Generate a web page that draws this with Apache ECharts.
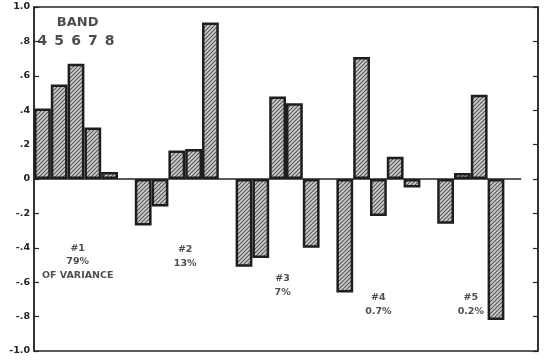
<!DOCTYPE html>
<html>
<head>
<meta charset="utf-8">
<script src="https://cdn.jsdelivr.net/npm/echarts@6/dist/echarts.min.js"></script>
<style>
  html, body { margin: 0; padding: 0; background: #fff; }
  #chart { width: 547px; height: 361px; }
</style>
</head>
<body>
<div id="chart"></div>
<script>
// Spectral band labels over the first group of bars
const bands = ['4', '5', '6', '7', '8'];

// Eigenvector loadings per band, one array per component
const component1 = [0.41, 0.55, 0.67, 0.30, 0.04];
const component2 = [-0.27, -0.16, 0.165, 0.175, 0.91];
const component3 = [-0.51, -0.46, 0.48, 0.44, -0.40];
const component4 = [-0.66, 0.71, -0.215, 0.13, -0.05];
const component5 = [-0.26, 0.035, 0.49, -0.82, 0];

// Component captions (share of variance)
const captions = ['#1\n79%\nOF VARIANCE', '#2\n13%', '#3\n7%', '#4\n0.7%', '#5\n0.2%'];

// Y tick labels, bottom to top
const yTickLabels = ['-1.0', '-.8', '-.6', '-.4', '-.2', '0', '.2', '.4', '.6', '.8', '1.0'];

// --- layout (slot units on the hidden value x-axis, loadings on y) ---
const captionAnchors = [[2.6, -0.48], [9.0, -0.45], [14.8, -0.62], [20.5, -0.73], [26.0, -0.73]];
const bandTitleAnchor = [2.6, 0.91];
const bandLabelY = 0.8;

const components = [component1, component2, component3, component4, component5];
const slotsPerGroup = bands.length + 1; // five bars and one empty slot
const slotCount = components.length * slotsPerGroup;

const barData = [];
const categories = [];
components.forEach(function (vals, g) {
  vals.forEach(function (v, i) {
    categories.push('C' + (g + 1) + '-' + bands[i]);
    // a zero loading has no height, so it shows only as the baseline
    barData.push(v === 0 ? { value: v, itemStyle: { borderWidth: 0 } } : v);
  });
  categories.push('gap' + (g + 1));
  barData.push(null);
});

// Diagonal hatch fill
function hatch() {
  const s = 4;
  const c = document.createElement('canvas');
  c.width = s; c.height = s;
  const ctx = c.getContext('2d');
  ctx.fillStyle = '#cdcdcd';
  ctx.fillRect(0, 0, s, s);
  ctx.strokeStyle = '#555';
  ctx.lineWidth = 1.1;
  ctx.beginPath();
  ctx.moveTo(-1, s + 1); ctx.lineTo(s + 1, -1);
  ctx.moveTo(-1, 1); ctx.lineTo(1, -1);
  ctx.moveTo(s - 1, s + 1); ctx.lineTo(s + 1, s - 1);
  ctx.stroke();
  return c;
}

const font = '"DejaVu Sans", "Liberation Sans", Arial, sans-serif';
const ink = '#262626';

function yLabel(v) {
  const idx = Math.round((v + 1) / 0.2);
  return yTickLabels[idx] !== undefined ? yTickLabels[idx] : '';
}

const yBase = {
  type: 'value', min: -1, max: 1, interval: 0.2,
  splitLine: { show: false },
  axisLine: { show: true, lineStyle: { color: ink, width: 1.5 } },
  axisTick: { show: true, inside: true, length: 5, lineStyle: { color: ink, width: 1.2 } }
};

const chart = echarts.init(document.getElementById('chart'), null, { renderer: 'canvas' });
chart.setOption({
  animation: false,
  backgroundColor: '#fff',
  grid: {
    left: 34, right: 9, top: 7, bottom: 10,
    show: true, borderColor: ink, borderWidth: 1.5, backgroundColor: 'transparent'
  },
  xAxis: [
    { type: 'category', data: categories, show: false, boundaryGap: true },
    { type: 'value', min: 0, max: slotCount, show: false }
  ],
  yAxis: [
    Object.assign({}, yBase, {
      position: 'left',
      axisLabel: {
        show: true, margin: 4, color: '#222', fontFamily: font, fontWeight: 'bold', fontSize: 9.5,
        formatter: yLabel
      }
    }),
    Object.assign({}, yBase, { position: 'right', axisLabel: { show: false } })
  ],
  series: [
    {
      name: 'zero',
      type: 'line', xAxisIndex: 1, yAxisIndex: 0,
      data: [[0, 0], [slotCount - 1, 0]],
      symbol: 'none', silent: true, z: 1,
      lineStyle: { color: ink, width: 1.5 }
    },
    {
      name: 'loadings',
      type: 'bar', xAxisIndex: 0, yAxisIndex: 0,
      data: barData,
      barWidth: '100%',
      z: 2,
      itemStyle: {
        color: { image: hatch(), repeat: 'repeat' },
        borderColor: '#1e1e1e', borderWidth: 2.5
      }
    },
    {
      name: 'bands',
      type: 'scatter', xAxisIndex: 0, yAxisIndex: 0,
      data: bands.map(function (b, i) { return [i, bandLabelY]; }),
      symbolSize: 0, silent: true, z: 3,
      label: {
        show: true, position: 'inside', color: '#1e1e1e',
        fontFamily: font, fontWeight: 'bold', fontSize: 14,
        formatter: function (p) { return bands[p.dataIndex]; }
      }
    },
    {
      name: 'bandTitle',
      type: 'scatter', xAxisIndex: 1, yAxisIndex: 0,
      data: [bandTitleAnchor],
      symbolSize: 0, silent: true, z: 3,
      label: {
        show: true, position: 'inside', color: '#1e1e1e',
        fontFamily: font, fontWeight: 'bold', fontSize: 13,
        formatter: 'BAND'
      }
    },
    {
      name: 'captions',
      type: 'scatter', xAxisIndex: 1, yAxisIndex: 0,
      data: captionAnchors,
      symbolSize: 0, silent: true, z: 3,
      label: {
        show: true, position: 'inside', color: '#222',
        fontFamily: font, fontWeight: 'bold', fontSize: 9.5, lineHeight: 13.5, align: 'center',
        formatter: function (p) { return captions[p.dataIndex]; }
      }
    }
  ]
});
</script>
</body>
</html>
